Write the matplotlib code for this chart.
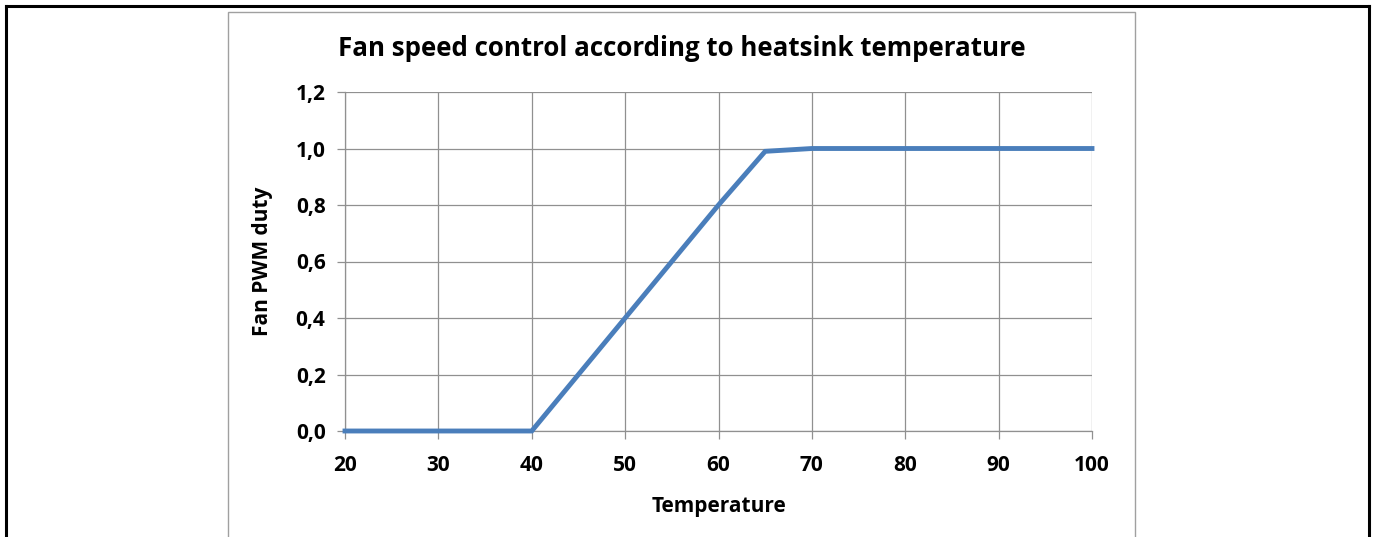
import matplotlib
matplotlib.use("Agg")
import matplotlib.pyplot as plt
from matplotlib.patches import Rectangle
from matplotlib.lines import Line2D

# Fan PWM duty curve versus heatsink temperature
temperature = [20, 30, 40, 50, 60, 65, 70, 80, 90, 100]
pwm_duty = [0.0, 0.0, 0.0, 0.4, 0.8, 0.99, 1.0, 1.0, 1.0, 1.0]
x_ticks = [20, 30, 40, 50, 60, 70, 80, 90, 100]
y_ticks = [0.0, 0.2, 0.4, 0.6, 0.8, 1.0, 1.2]
y_tick_labels = ["0,0", "0,2", "0,4", "0,6", "0,8", "1,0", "1,2"]

plt.rcParams["font.family"] = ["Open Sans", "DejaVu Sans"]
plt.rcParams["font.weight"] = "bold"

W, H = 1375, 537
fig = plt.figure(figsize=(W / 100, H / 100), dpi=100)

# outer page frame (black) and chart area frame (grey)
fig.add_artist(Line2D([6 / W, 6 / W], [0, 1 - 6 / H], color="black", lw=2.2, transform=fig.transFigure))
fig.add_artist(Line2D([1368.5 / W, 1368.5 / W], [0, 1 - 6 / H], color="black", lw=2.2, transform=fig.transFigure))
fig.add_artist(Line2D([6 / W, 1368.5 / W], [1 - 6 / H, 1 - 6 / H], color="black", lw=2.2, transform=fig.transFigure))
fig.add_artist(Rectangle((228 / W, -0.05), (1135 - 228) / W, 1.05 - 12 / H,
                         fill=False, edgecolor="#a0a0a0", lw=1.0, transform=fig.transFigure))

left, right, top, bottom = 345, 1092, 92, 431
ax = fig.add_axes([left / W, 1 - bottom / H, (right - left) / W, (bottom - top) / H])

ax.plot(temperature, pwm_duty, color="#4a7ebb", lw=3.5, solid_joinstyle="miter", zorder=3, clip_on=False)

ax.set_xlim(20, 100)
ax.set_ylim(0, 1.2)
ax.set_xticks(x_ticks)
ax.set_yticks(y_ticks)
ax.set_yticklabels(y_tick_labels)
ax.grid(True, color="#909090", lw=0.9)
ax.set_axisbelow(True)

for side in ("top", "right"):
    ax.spines[side].set_visible(False)
for side in ("left", "bottom"):
    ax.spines[side].set_color("#909090")
    ax.spines[side].set_linewidth(0.9)

ax.tick_params(axis="both", length=6, width=0.9, color="#909090", labelsize=15, pad=8)
ax.tick_params(axis="x", pad=11)
for lbl in ax.get_xticklabels() + ax.get_yticklabels():
    lbl.set_fontweight("bold")

ax.set_xlabel("Temperature", fontsize=15, fontweight="bold", labelpad=15)
ax.set_ylabel("Fan PWM duty", fontsize=15, fontweight="bold", labelpad=16)

fig.text(682 / W, 1 - 48 / H, "Fan speed control according to heatsink temperature",
         ha="center", va="center", fontsize=18.6, fontweight="bold")

fig.savefig("out.png", dpi=100)
